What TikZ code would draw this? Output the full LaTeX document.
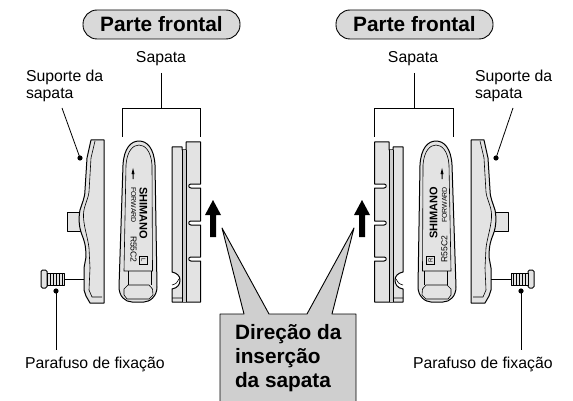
\documentclass[tikz,border=0pt]{standalone}
\usepackage{fontspec}
\setmainfont{Liberation Sans}
\tikzset{
  lbl/.style={inner sep=0pt,outer sep=0pt,align=left,font=\fontsize{15.8}{17.5}\selectfont},
  pill/.style={draw,line width=0.9pt,fill=black!15,rounded corners=14pt,minimum width=157pt,minimum height=29pt,inner sep=0pt,font=\bfseries\fontsize{20.8}{24}\selectfont},
  tiny/.style={inner sep=0pt,outer sep=0pt,font=\fontsize{#1}{#1}\selectfont},
  part/.style={draw,line width=1pt,fill=black!11,line join=round},
  thin line/.style={line width=0.6pt},
  padset/.pic={
    \draw[part] (67,212) rectangle (82,231) ; % stud
    \draw[part] (91,140) -- (104,140) -- (104,303) -- (90,303) -- (86,296) -- (84,290) -- (84,268) -- (86,257) .. controls (86,245) and (84,240) .. (82,235) .. controls (78,225) and (79,215) .. (80,210) .. controls (82,203) and (85,198) .. (85,190) -- (87,158) -- cycle ; % holder
    \draw[thin line] (95,141) -- (91,158) -- (89,192) .. controls (88,200) and (84,205) .. (83.5,214) .. controls (83,225) and (88,238) .. (89,248) -- (90,268) -- (89,290) -- (92,297) -- (102,297) ; % holder edge
    \draw[line width=1pt] (64,279) -- (84,279) ; % shank
    \draw[part,rounded corners=1.5pt] (41,270) rectangle (47,288) ; % head
    \draw[part] (47,273) rectangle (64,285) ; % thread
    \foreach \x in {50,53,56,59,62} \draw[thin line] (\x,273) -- (\x,285) ;
    \draw[part] (123,165) .. controls (124,148) and (131,141) .. (139,141) .. controls (147,141) and (154,148) .. (155,165) -- (157,287) .. controls (157,296) and (150,302) .. (144,302) -- (132,302) .. controls (125,302) and (119,296) .. (119,287) -- cycle ; % shoe
    \draw[thin line] (126,165) .. controls (127,151) and (133,145) .. (139,145) .. controls (145,145) and (151,151) .. (152,165) -- (152.5,271) -- (124,271) -- cycle ; % plate
    \draw[thin line] (128,271) -- (128,285) (151,271) -- (151,285) ;
    \draw[thin line] (128,285) -- (149,285) -- (152.5,289) -- (153,295) -- (149,299) -- (127,299) -- (124,295) -- (124,289) -- cycle ; % tail
    \draw[part] (172,147) -- (182,147) -- (182,150) -- (186,150) -- (186,142) -- (200.5,142) -- (200.5,184) -- (191,184) .. controls (188,184) and (188,188) .. (191,188) -- (200.5,188) -- (200.5,221) -- (191,221) .. controls (188,221) and (188,225) .. (191,225) -- (200.5,225) -- (200.5,257) -- (191,257) .. controls (188,257) and (188,261) .. (191,261) -- (200.5,261) -- (200.5,302) -- (172,302) -- (172,289) .. controls (178,288) and (180,284) .. (180,280) .. controls (180,276) and (177,273) .. (172,272) -- cycle ; % pad
    \fill[black!20] (182,150) rectangle (186,302) ;
    \draw[thin line] (182,150) -- (182,302) (186,150) -- (186,302) ;
    \draw[thin line] (172,298) -- (182,298) (172,285) .. controls (176,284) and (178,282) .. (179,279) ;
    \fill (213,200) -- (221,215) -- (216,215) -- (216,237) -- (210,237) -- (210,215) -- (205,215) -- cycle ; % arrow
    \fill (133,168) -- (134.5,174) -- (133.5,174) -- (133.5,179) -- (132.5,179) -- (132.5,174) -- (131.5,174) -- cycle ; % small arrow
  }
}
\begin{document}
\begin{tikzpicture}[x=1pt,y=-1pt]
    \useasboundingbox (0,0) rectangle (573,401) ;
    \pic at (0,0) {padset} ;
    \pic[xscale=-1] at (575,0) {padset} ;
    \node[pill] (frontL) at (161.5,24.5) {Parte frontal} ;
    \node[pill] (frontR) at (414.5,24.5) {Parte frontal} ;
    \node[lbl,anchor=base] (sapataL) at (161,63) {Sapata} ;
    \node[lbl,anchor=base] (sapataR) at (413,63) {Sapata} ;
    \node[lbl,anchor=north west] (suporteL) at (26,70) {Suporte da\\sapata} ;
    \node[lbl,anchor=north west] (suporteR) at (475,70) {Suporte da\\sapata} ;
    \node[lbl,anchor=base west] (parafusoL) at (25,368) {Parafuso de fixação} ;
    \node[lbl,anchor=base west] (parafusoR) at (413,368) {Parafuso de fixação} ;
    % brackets
    \coordinate (brkL) at (161,108.5) ;
    \coordinate (brkR) at (414,108.5) ;
    \draw[line width=0.8pt] (161,73) -- (brkL) (122,137) |- (200.5,108.5) -- (200.5,137) ;
    \draw[line width=0.8pt] (414,73) -- (brkR) (374.5,137) |- (453,108.5) -- (453,137) ;
    % leaders
    \coordinate (dotA) at (80,158) ;
    \coordinate (dotB) at (496,158) ;
    \coordinate (dotC) at (56,291) ;
    \coordinate (dotD) at (521,291) ;
    \fill (dotA) circle (2.6) ; \fill (dotB) circle (2.6) ; \fill (dotC) circle (2.6) ; \fill (dotD) circle (2.6) ;
    \draw[line width=0.8pt] (62,108) -- (dotA) ;
    \draw[line width=0.8pt] (513,108) -- (dotB) ;
    \draw[line width=0.8pt] (dotC) -- (56,350) ;
    \draw[line width=0.8pt] (dotD) -- (521,350) ;
    % callout
    \draw[line width=0.9pt,fill=black!19,line join=round] (220,401) -- (220,314) -- (244,314) -- (222,228) -- (269,314) -- (307,314) -- (354,228) -- (332,314) -- (356,314) -- (356,401) ;
    \node[inner sep=0pt,outer sep=0pt,align=left,anchor=north west,font=\bfseries\fontsize{20.8}{24}\selectfont] (direcao) at (235,324) {Direção da\\inserção\\da sapata} ;
    % shoe lettering
    \node[tiny=7,rotate=-90,anchor=west] (fwdL) at (133.5,187) {FORWARD} ;
    \node[tiny=8.6,rotate=-90,anchor=west] (rL) at (133.5,236) {R55C2} ;
    \node[rotate=-90,anchor=west,inner sep=0pt,outer sep=0pt,font=\bfseries\fontsize{11}{11}\selectfont] (shmL) at (143.5,187) {SHIMANO} ;
    \node[draw,thin line,tiny=6,rotate=-90,minimum width=8pt,minimum height=8pt] (boxL) at (143.5,260) {L} ;
    \node[tiny=7,rotate=90,anchor=east] (fwdR) at (444.5,187) {FORWARD} ;
    \node[tiny=8.6,rotate=90,anchor=east] (rR) at (444.5,236) {R55C2} ;
    \node[rotate=90,anchor=east,inner sep=0pt,outer sep=0pt,font=\bfseries\fontsize{11}{11}\selectfont] (shmR) at (433.5,187) {SHIMANO} ;
    \node[draw,thin line,tiny=6,rotate=90,minimum width=8pt,minimum height=8pt] (boxR) at (430.5,260) {R} ;
\end{tikzpicture}
\end{document}
